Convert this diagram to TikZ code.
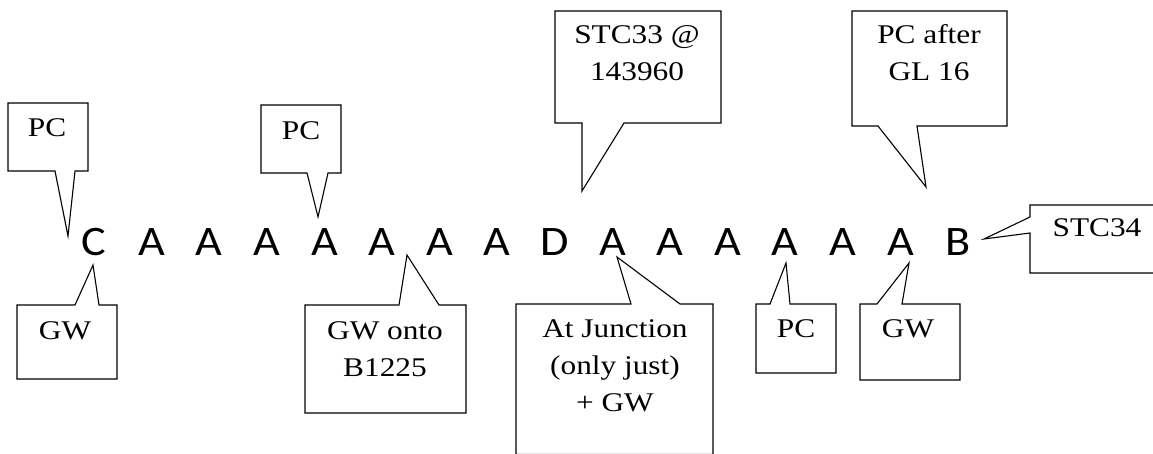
\documentclass[tikz,border=0pt]{standalone}
\usepackage{fontspec}
\setmainfont{Liberation Serif}[FakeStretch=1.16]
\newfontfamily\letterfont{Carlito}[FakeStretch=1.1]
\begin{document}
\begin{tikzpicture}[x=1pt,y=-1pt,
  callout/.style={draw=black,line width=1.1pt,line join=miter,fill=white},
  lbl/.style={anchor=base,inner sep=0pt,font=\fontsize{27}{32}\selectfont},
  seq/.style={anchor=base,inner sep=0pt,font=\fontsize{42}{48}\selectfont\letterfont}]
\useasboundingbox (0,0) rectangle (1153,454);

% sequence of letters
\foreach \ch [count=\i from 0] in {C,A,A,A,A,A,A,A,D,A,A,A,A,A,A,B}
  \node[seq] (L\i) at ({94+57.6*\i},255) {\ch};

% callouts above
\draw[callout] (8,103) -- (88,103) -- (88,171) -- (75,171) -- (68,236) -- (55,171) -- (8,171) -- cycle;
\node[lbl] (pc1) at (47,137) {PC};

\draw[callout] (261,105) -- (341,105) -- (341,173) -- (328,173) -- (318,217) -- (307,173) -- (261,173) -- cycle;
\node[lbl] (pc2) at (301,140) {PC};

\draw[callout] (555,11) -- (721,11) -- (721,123) -- (624,123) -- (582,191) -- (582,123) -- (555,123) -- cycle;
\node[lbl] (stcA) at (637,44) {STC33 @};
\node[lbl] (stcB) at (637,81) {143960};

\draw[callout] (852,11) -- (1007,11) -- (1007,126) -- (917,126) -- (926,187) -- (878,126) -- (852,126) -- cycle;
\node[lbl] (pcaA) at (929,44) {PC after};
\node[lbl] (pcaB) at (929,81) {GL 16};

\draw[callout] (1160,205) -- (1030,205) -- (1030,217) -- (984,239) -- (1030,233) -- (1030,273) -- (1160,273) -- cycle;
\node[lbl] (stc34) at (1097,237) {STC34};

% callouts below
\draw[callout] (17,305) -- (75,305) -- (93,265) -- (99,305) -- (117,305) -- (117,379) -- (17,379) -- cycle;
\node[lbl] (gw1) at (65,339) {GW};

\draw[callout] (305,305) -- (399,305) -- (407,255) -- (439,305) -- (466,305) -- (466,413) -- (305,413) -- cycle;
\node[lbl] (gwoA) at (385,339) {GW onto};
\node[lbl] (gwoB) at (385,376) {B1225};

\draw[callout] (516,304) -- (631,304) -- (617,257) -- (680,304) -- (713,304) -- (713,454.5) -- (516,454.5) -- cycle;
\node[lbl] (ajA) at (615,337) {At Junction};
\node[lbl] (ajB) at (615,374) {(only just)};
\node[lbl] (ajC) at (615,411) {+ GW};

\draw[callout] (756,304) -- (770,304) -- (786,263) -- (790,304) -- (836,304) -- (836,373) -- (756,373) -- cycle;
\node[lbl] (pc3) at (796,337) {PC};

\draw[callout] (860,304) -- (877,304) -- (909,263) -- (902,304) -- (960,304) -- (960,380) -- (860,380) -- cycle;
\node[lbl] (gw2) at (908,337) {GW};
\end{tikzpicture}
\end{document}
